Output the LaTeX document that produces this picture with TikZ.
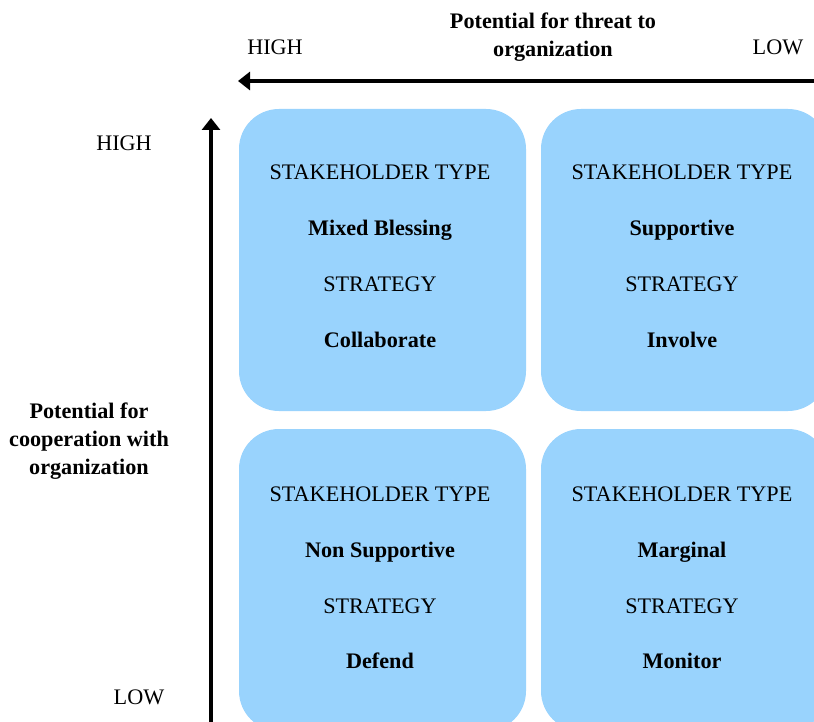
\documentclass[tikz,border=0pt]{standalone}
\usepackage{fontspec}
\setmainfont{Liberation Serif}
\usetikzlibrary{arrows.meta}
\definecolor{quadblue}{RGB}{153,211,253}
\begin{document}
\begin{tikzpicture}[x=1pt,y=-1pt,
  quad/.style={fill=quadblue,draw=none,rounded corners=40pt,minimum width=287pt,minimum height=302pt,inner sep=0pt},
  lbl/.style={font=\fontsize{22.2}{28}\selectfont,inner sep=0pt,align=center,anchor=base},
  blbl/.style={lbl,font=\fontsize{22.2}{28}\selectfont\bfseries},
  axisline/.style={line width=3.5pt,-{Triangle[width=18pt,length=12pt]}}]
\useasboundingbox (0,0) rectangle (814,722);
\clip (0,0) rectangle (814,722);
% quadrants
\node[quad] (q1) at (382.5,260) {};
\node[quad] (q2) at (684.5,260) {};
\node[quad] (q3) at (382.5,580) {};
\node[quad] (q4) at (684.5,580) {};
% axes
\coordinate (hs) at (820,81);
\coordinate (he) at (238,81);
\draw[axisline] (hs) -- (he);
\coordinate (vs) at (211,730);
\coordinate (ve) at (211,118);
\draw[axisline] (vs) -- (ve);
% header labels
\node[blbl] (thr) at (553,56.3) {Potential for threat to\\organization};
\node[lbl] (hh) at (275,54.3) {HIGH};
\node[lbl] (hl) at (778,54.3) {LOW};
\node[lbl] (vh) at (124,150.3) {HIGH};
\node[blbl] (coop) at (89,474.3) {Potential for\\cooperation with\\organization};
\node[lbl] (vl) at (139,704.3) {LOW};
% quadrant texts
\node[lbl] (t1a) at (380,179.3) {STAKEHOLDER TYPE};
\node[blbl] (t1b) at (380,235.3) {Mixed Blessing};
\node[lbl] (t1c) at (380,291.3) {STRATEGY};
\node[blbl] (t1d) at (380,347.3) {Collaborate};
\node[lbl] (t2a) at (682,179.3) {STAKEHOLDER TYPE};
\node[blbl] (t2b) at (682,235.3) {Supportive};
\node[lbl] (t2c) at (682,291.3) {STRATEGY};
\node[blbl] (t2d) at (682,347.3) {Involve};
\node[lbl] (t3a) at (380,501.3) {STAKEHOLDER TYPE};
\node[blbl] (t3b) at (380,557.3) {Non Supportive};
\node[lbl] (t3c) at (380,613.3) {STRATEGY};
\node[blbl] (t3d) at (380,668.3) {Defend};
\node[lbl] (t4a) at (682,501.3) {STAKEHOLDER TYPE};
\node[blbl] (t4b) at (682,557.3) {Marginal};
\node[lbl] (t4c) at (682,613.3) {STRATEGY};
\node[blbl] (t4d) at (682,668.3) {Monitor};
\end{tikzpicture}
\end{document}
